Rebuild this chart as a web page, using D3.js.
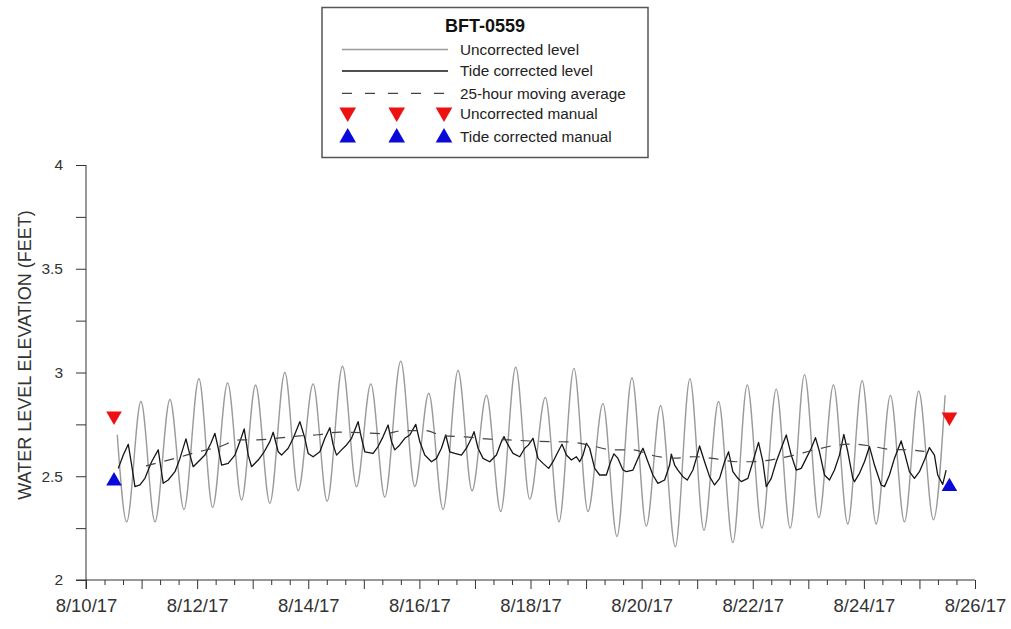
<!DOCTYPE html>
<html>
<head>
<meta charset="utf-8">
<script src="https://cdn.jsdelivr.net/npm/d3@7"></script>
<style>
  html, body { margin: 0; padding: 0; background: #fff; }
  svg { display: block; font-family: "Liberation Sans", Arial, Helvetica, sans-serif; }
</style>
</head>
<body>
<svg id="chart" width="1011" height="629"></svg>
<script>
// ---- DATA (time as decimal day of August 2017) ----
const uncorrDay = [10.563,10.732,10.989,11.241,11.511,11.763,12.032,12.279,12.549,12.800,13.052,13.309,13.579,13.818,14.088,14.340,14.617,14.869,15.126,15.378,15.665,15.917,16.169,16.426,16.696,16.948,17.207,17.464,17.734,17.986,18.268,18.513,18.782,19.034,19.304,19.556,19.826,20.084,20.342,20.606,20.869,21.121,21.385,21.642,21.901,22.164,22.423,22.674,22.932,23.189,23.453,23.710,23.969,24.221,24.478,24.730,24.987,25.252,25.462];
const uncorrLevel = [2.70,2.28,2.86,2.28,2.87,2.34,2.97,2.35,2.95,2.385,2.94,2.37,3.00,2.43,2.945,2.38,3.03,2.45,2.945,2.40,3.055,2.45,2.90,2.34,3.01,2.43,2.89,2.33,3.025,2.39,2.88,2.28,3.02,2.33,2.85,2.21,2.975,2.26,2.84,2.16,2.97,2.24,2.86,2.18,2.94,2.25,2.92,2.25,2.99,2.30,2.94,2.27,2.96,2.27,2.89,2.28,2.91,2.29,2.89];

const tideDay = [10.581,10.671,10.761,10.822,10.881,10.971,11.061,11.181,11.300,11.390,11.480,11.601,11.691,11.799,11.871,11.930,12.020,12.140,12.248,12.320,12.380,12.441,12.559,12.680,12.770,12.847,12.919,12.980,13.099,13.207,13.309,13.369,13.459,13.520,13.639,13.729,13.849,13.939,13.998,14.088,14.209,14.299,14.388,14.448,14.509,14.599,14.689,14.779,14.897,14.959,15.018,15.167,15.257,15.347,15.437,15.498,15.558,15.647,15.737,15.827,15.935,16.007,16.097,16.218,16.308,16.397,16.475,16.547,16.637,16.757,16.847,16.937,16.984,17.056,17.146,17.266,17.387,17.477,17.523,17.595,17.685,17.806,17.896,17.96,18.045,18.135,18.225,18.327,18.405,18.495,18.567,18.646,18.736,18.826,18.885,18.945,19.005,19.065,19.155,19.245,19.365,19.442,19.502,19.574,19.664,19.725,19.844,19.934,20.024,20.113,20.203,20.293,20.414,20.504,20.534,20.594,20.653,20.743,20.822,20.923,20.984,21.043,21.133,21.223,21.313,21.403,21.493,21.565,21.642,21.732,21.793,21.912,22.002,22.104,22.182,22.243,22.333,22.423,22.513,22.603,22.693,22.782,22.872,22.962,23.052,23.129,23.201,23.291,23.381,23.471,23.561,23.639,23.711,23.801,23.831,23.921,24.011,24.101,24.191,24.311,24.371,24.460,24.550,24.671,24.743,24.820,24.910,25.000,25.090,25.180,25.270,25.329,25.419,25.480];
const tideLevel = [2.538,2.602,2.654,2.554,2.450,2.458,2.490,2.570,2.627,2.466,2.482,2.522,2.586,2.680,2.602,2.546,2.570,2.602,2.659,2.707,2.635,2.554,2.562,2.602,2.667,2.728,2.602,2.546,2.578,2.618,2.667,2.712,2.618,2.602,2.635,2.683,2.763,2.683,2.610,2.594,2.618,2.683,2.734,2.651,2.602,2.627,2.651,2.683,2.763,2.683,2.618,2.610,2.643,2.691,2.747,2.667,2.627,2.651,2.683,2.699,2.750,2.667,2.602,2.570,2.586,2.635,2.699,2.618,2.610,2.602,2.635,2.683,2.715,2.635,2.586,2.570,2.602,2.667,2.691,2.651,2.610,2.594,2.635,2.650,2.683,2.586,2.562,2.538,2.570,2.618,2.654,2.602,2.578,2.594,2.570,2.602,2.659,2.635,2.538,2.506,2.506,2.570,2.608,2.586,2.530,2.522,2.530,2.586,2.635,2.570,2.506,2.466,2.482,2.554,2.607,2.554,2.530,2.498,2.482,2.530,2.586,2.646,2.570,2.498,2.458,2.490,2.570,2.618,2.522,2.490,2.474,2.490,2.570,2.663,2.570,2.450,2.490,2.570,2.635,2.699,2.602,2.530,2.538,2.586,2.635,2.686,2.618,2.506,2.482,2.530,2.602,2.702,2.618,2.490,2.474,2.514,2.570,2.643,2.554,2.458,2.450,2.506,2.586,2.670,2.602,2.522,2.490,2.522,2.578,2.638,2.602,2.506,2.461,2.530];

const avgDay = [11.079,11.655,12.050,12.374,12.770,13.094,13.489,13.849,14.173,14.568,14.928,15.378,15.701,16.097,16.439,16.817,17.212,17.626,17.986,18.345,18.705,19.101,19.478,19.838,20.198,20.594,20.953,21.313,21.691,21.996,22.356,22.716,23.112,23.507,23.831,24.137,24.460,24.820,25.090];
const avgLevel = [2.55,2.59,2.62,2.64,2.675,2.675,2.685,2.695,2.70,2.713,2.71,2.705,2.72,2.72,2.695,2.69,2.68,2.675,2.67,2.667,2.665,2.647,2.627,2.627,2.60,2.587,2.594,2.585,2.57,2.57,2.58,2.60,2.627,2.65,2.655,2.645,2.63,2.627,2.62];

const manualDay = [10.504, 25.54];
const uncorrManual = [2.79, 2.785];
const tideManual = [2.477, 2.45];

const yMajorTicks = [2, 2.5, 3, 3.5, 4];
const yMinorTicks = [2.25, 2.75, 3.25, 3.75];
const xTickLabels = ["8/10/17","8/12/17","8/14/17","8/16/17","8/18/17","8/20/17","8/22/17","8/24/17","8/26/17"];

const legendTitle = "BFT-0559";
const legendLabels = ["Uncorrected level","Tide corrected level","25-hour moving average","Uncorrected manual","Tide corrected manual"];
const yTitle = "WATER LEVEL ELEVATION (FEET)";

// ---- HELPERS ----
const aug1 = new Date(2017, 7, 1).getTime();
const toDate = d => new Date(aug1 + (d - 1) * 864e5);

const svg = d3.select("#chart");
const x = d3.scaleTime().domain([toDate(10), toDate(26)]).range([86, 975]);
const y = d3.scaleLinear().domain([2, 4]).range([580, 165]);

const axisColor = "#333";

// ---- AXES ----
const yAxisG = svg.append("g").attr("transform", `translate(${x.range()[0]},0)`);
yAxisG.call(d3.axisLeft(y).tickValues(yMinorTicks).tickSize(10).tickFormat(""))
  .call(g => g.select(".domain").remove());
const yMaj = svg.append("g").attr("transform", `translate(${x.range()[0]},0)`);
yMaj.call(d3.axisLeft(y).tickValues(yMajorTicks).tickSize(10).tickPadding(13).tickFormat(d3.format("")))
  .call(g => g.select(".domain").remove());
svg.append("line")
  .attr("x1", x.range()[0]).attr("x2", x.range()[0])
  .attr("y1", y.range()[1]).attr("y2", y.range()[0] + 9)
  .attr("stroke", axisColor).attr("stroke-width", 1);
[yAxisG, yMaj].forEach(g => {
  g.selectAll(".tick line").attr("stroke", axisColor);
  g.selectAll(".tick text").attr("fill", "#333").attr("font-size", 15.5).attr("font-family", "Liberation Sans, Arial, sans-serif");
});

const days = d3.timeDay.range(toDate(10), d3.timeDay.offset(toDate(26), 1));
const minor = d3.timeHour.every(8).range(toDate(10), toDate(26)).filter(t => t.getHours() !== 0);
const xMin = svg.append("g").attr("transform", `translate(0,${y.range()[0]})`);
xMin.call(d3.axisBottom(x).tickValues(minor).tickSize(5).tickFormat(""))
  .call(g => g.select(".domain").remove());
const labelMap = new Map(xTickLabels.map((s, i) => [d3.timeDay.offset(toDate(10), 2 * i).getTime(), s]));
const xMaj = svg.append("g").attr("transform", `translate(0,${y.range()[0]})`);
xMaj.call(d3.axisBottom(x).tickValues(days).tickSize(9).tickPadding(10)
    .tickFormat(t => labelMap.get(t.getTime()) || ""))
  .call(g => g.select(".domain").remove());
[xMin, xMaj].forEach(g => {
  g.selectAll(".tick line").attr("stroke", axisColor);
  g.selectAll(".tick text").attr("fill", "#333").attr("font-size", 18.5).attr("font-family", "Liberation Sans, Arial, sans-serif");
});
svg.append("line")
  .attr("x1", x.range()[0] - 10).attr("x2", x.range()[1])
  .attr("y1", y.range()[0]).attr("y2", y.range()[0])
  .attr("stroke", axisColor).attr("stroke-width", 1);

// Y title
svg.append("text")
  .attr("transform", `translate(25,355) rotate(-90)`)
  .attr("text-anchor", "middle").attr("dominant-baseline", "central")
  .attr("font-size", 18).attr("fill", "#333")
  .text(yTitle);

// ---- SERIES ----
const uncorr = uncorrDay.map((d, i) => ({t: toDate(d), v: uncorrLevel[i]}));
const tide = tideDay.map((d, i) => ({t: toDate(d), v: tideLevel[i]}));
const avg = avgDay.map((d, i) => ({t: toDate(d), v: avgLevel[i]}));

svg.append("path").datum(uncorr)
  .attr("fill", "none").attr("stroke", "#9a9a9a").attr("stroke-width", 1.4)
  .attr("d", d3.line().x(d => x(d.t)).y(d => y(d.v)).curve(d3.curveMonotoneX));

svg.append("path").datum(tide)
  .attr("fill", "none").attr("stroke", "#151515").attr("stroke-width", 1.3)
  .attr("stroke-linejoin", "round")
  .attr("d", d3.line().x(d => x(d.t)).y(d => y(d.v)));

svg.append("path").datum(avg)
  .attr("fill", "none").attr("stroke", "#444").attr("stroke-width", 1.2)
  .attr("stroke-dasharray", "10,9")
  .attr("d", d3.line().x(d => x(d.t)).y(d => y(d.v)).curve(d3.curveMonotoneX));

const tri = d3.symbol(d3.symbolTriangle).size(105);
manualDay.forEach((d, i) => {
  svg.append("path").attr("d", tri())
    .attr("transform", `translate(${x(toDate(d))},${y(uncorrManual[i])}) rotate(180)`)
    .attr("fill", "#ee1111");
  svg.append("path").attr("d", tri())
    .attr("transform", `translate(${x(toDate(d))},${y(tideManual[i])})`)
    .attr("fill", "#0a0ad8");
});

// ---- LEGEND ----
const lg = svg.append("g");
lg.append("rect").attr("x", 322).attr("y", 7.5).attr("width", 326).attr("height", 150)
  .attr("fill", "#fff").attr("stroke", "#555").attr("stroke-width", 1.5);
lg.append("text").attr("x", 485).attr("y", 32).attr("text-anchor", "middle")
  .attr("font-weight", "bold").attr("font-size", 18).attr("fill", "#111").text(legendTitle);
const rowY = [49.5, 71, 93.3, 113.3, 136.7];
lg.append("line").attr("x1", 342).attr("x2", 448).attr("y1", rowY[0]).attr("y2", rowY[0])
  .attr("stroke", "#9a9a9a").attr("stroke-width", 1.3);
lg.append("line").attr("x1", 342).attr("x2", 448).attr("y1", rowY[1]).attr("y2", rowY[1])
  .attr("stroke", "#151515").attr("stroke-width", 1.3);
lg.append("line").attr("x1", 342).attr("x2", 448).attr("y1", rowY[2]).attr("y2", rowY[2])
  .attr("stroke", "#444").attr("stroke-width", 1.2).attr("stroke-dasharray", "10,13");
const legTri = d3.symbol(d3.symbolTriangle).size(120);
[347.7, 396.7, 444].forEach(cx => {
  lg.append("path").attr("d", legTri()).attr("transform", `translate(${cx},${rowY[3] - 1}) rotate(180)`).attr("fill", "#ee1111");
  lg.append("path").attr("d", legTri()).attr("transform", `translate(${cx},${rowY[4] + 1})`).attr("fill", "#0a0ad8");
});
legendLabels.forEach((s, i) => {
  lg.append("text").attr("x", 460).attr("y", rowY[i] + 5.3)
    .attr("font-size", 15.3).attr("fill", "#222").text(s);
});
</script>
</body>
</html>
